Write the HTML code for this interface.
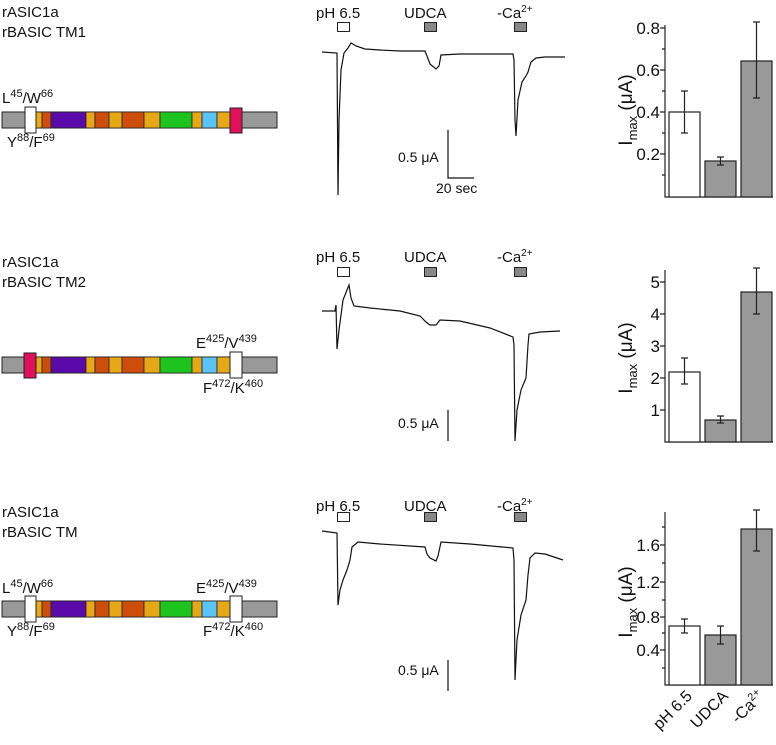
<!DOCTYPE html>
<html><head><meta charset="utf-8"><style>
html,body{margin:0;padding:0;background:#fff}
svg{display:block;font-family:"Liberation Sans",Arial,sans-serif}
</style></head><body>
<svg width="776" height="745" viewBox="0 0 776 745" xmlns="http://www.w3.org/2000/svg">
<defs>
<g id="bar">
<rect x="2" y="0" width="275" height="16" fill="#999" stroke="#222" stroke-width="1"/>
<rect x="36" y="0" width="6" height="16" fill="#e6a817" stroke="#222" stroke-width="0.8"/>
<rect x="42" y="0" width="9" height="16" fill="#cc4e0a" stroke="#222" stroke-width="0.8"/>
<rect x="51" y="0" width="35" height="16" fill="#5a0aa8" stroke="#222" stroke-width="0.8"/>
<rect x="86" y="0" width="9" height="16" fill="#e6a817" stroke="#222" stroke-width="0.8"/>
<rect x="95" y="0" width="14" height="16" fill="#cc4e0a" stroke="#222" stroke-width="0.8"/>
<rect x="109" y="0" width="13" height="16" fill="#e6a817" stroke="#222" stroke-width="0.8"/>
<rect x="122" y="0" width="22" height="16" fill="#cc4e0a" stroke="#222" stroke-width="0.8"/>
<rect x="144" y="0" width="16" height="16" fill="#e6a817" stroke="#222" stroke-width="0.8"/>
<rect x="160" y="0" width="32" height="16" fill="#1ec41e" stroke="#222" stroke-width="0.8"/>
<rect x="192" y="0" width="10" height="16" fill="#e6a817" stroke="#222" stroke-width="0.8"/>
<rect x="202" y="0" width="15" height="16" fill="#5ac4fa" stroke="#222" stroke-width="0.8"/>
<rect x="217" y="0" width="13" height="16" fill="#e6a817" stroke="#222" stroke-width="0.8"/>
</g>
</defs>
<g font-size="15" fill="#111">
<text x="2" y="17">rASIC1a</text><text x="2" y="37">rBASIC TM1</text>
<text x="2" y="267">rASIC1a</text><text x="2" y="287">rBASIC TM2</text>
<text x="2" y="517">rASIC1a</text><text x="2" y="537">rBASIC TM</text>
</g>
<g transform="translate(0,112)"><use href="#bar"/>
<rect x="25" y="-5" width="11" height="26" fill="#fff" stroke="#222"/>
<rect x="230" y="-4" width="12" height="25" fill="#e0105a" stroke="#222"/></g>
<g transform="translate(0,357)"><use href="#bar"/>
<rect x="24" y="-4" width="12" height="25" fill="#e0105a" stroke="#222"/>
<rect x="230" y="-5" width="12" height="26" fill="#fff" stroke="#222"/></g>
<g transform="translate(0,601)"><use href="#bar"/>
<rect x="25" y="-5" width="11" height="26" fill="#fff" stroke="#222"/>
<rect x="230" y="-5" width="12" height="26" fill="#fff" stroke="#222"/></g>
<g font-size="15" fill="#111">
<text x="2" y="103">L<tspan font-size="11" dy="-6">45</tspan><tspan dy="6">/W</tspan><tspan font-size="11" dy="-6">66</tspan></text>
<text x="7" y="147">Y<tspan font-size="11" dy="-6">88</tspan><tspan dy="6">/F</tspan><tspan font-size="11" dy="-6">69</tspan></text>
<text x="196" y="348">E<tspan font-size="11" dy="-6">425</tspan><tspan dy="6">/V</tspan><tspan font-size="11" dy="-6">439</tspan></text>
<text x="203" y="393">F<tspan font-size="11" dy="-6">472</tspan><tspan dy="6">/K</tspan><tspan font-size="11" dy="-6">460</tspan></text>
<text x="2" y="593">L<tspan font-size="11" dy="-6">45</tspan><tspan dy="6">/W</tspan><tspan font-size="11" dy="-6">66</tspan></text>
<text x="7" y="636">Y<tspan font-size="11" dy="-6">88</tspan><tspan dy="6">/F</tspan><tspan font-size="11" dy="-6">69</tspan></text>
<text x="196" y="593">E<tspan font-size="11" dy="-6">425</tspan><tspan dy="6">/V</tspan><tspan font-size="11" dy="-6">439</tspan></text>
<text x="203" y="636">F<tspan font-size="11" dy="-6">472</tspan><tspan dy="6">/K</tspan><tspan font-size="11" dy="-6">460</tspan></text>
</g>
<g font-size="15" fill="#111">
<text x="316" y="18">pH 6.5</text><text x="404" y="18">UDCA</text><text x="497" y="18">-Ca<tspan font-size="10" dy="-6">2+</tspan></text>
<text x="316" y="262">pH 6.5</text><text x="404" y="262">UDCA</text><text x="497" y="262">-Ca<tspan font-size="10" dy="-6">2+</tspan></text>
<text x="316" y="511">pH 6.5</text><text x="404" y="511">UDCA</text><text x="497" y="511">-Ca<tspan font-size="10" dy="-6">2+</tspan></text>
</g>
<g stroke="#222" stroke-width="1">
<rect x="337.5" y="22.5" width="12" height="9" fill="#fff"/><rect x="424.5" y="22.5" width="12" height="9" fill="#888"/><rect x="514.5" y="22.5" width="12" height="9" fill="#888"/>
<rect x="337.5" y="267.5" width="12" height="9" fill="#fff"/><rect x="424.5" y="267.5" width="12" height="9" fill="#888"/><rect x="514.5" y="267.5" width="12" height="9" fill="#888"/>
<rect x="337.5" y="512.5" width="12" height="9" fill="#fff"/><rect x="424.5" y="512.5" width="12" height="9" fill="#888"/><rect x="514.5" y="512.5" width="12" height="9" fill="#888"/>
</g>
<g fill="none" stroke="#111" stroke-width="1.2">
<path d="M322 52 L337 53 L338 195 L339 120 L341 70 L344 53 L348 48 L351 43 L356 46 L365 49 L380 50 L400 51 L425 51 L427 56 L430 64 L436 69 L439 66 L441 55 L460 54 L490 54 L513 54 L514 60 L515 120 L516 136 L518 100 L522 82 L526 76 L528 72 L531 62 L536 58 L545 57 L565 57"/>
<path d="M322 311 L335 311 L336 305 L337 349 L339 330 L343 300 L347 290 L349 285 L351 298 L354 306 L370 308 L400 311 L420 316 L426 322 L430 325 L436 325 L440 320 L460 321 L490 328 L513 337 L514 345 L515 441 L517 410 L521 390 L526 378 L528 345 L529 334 L540 332 L560 331"/>
<path d="M322 531 L337 533 L338 605 L340 590 L343 580 L347 570 L350 560 L352 547 L358 542 L380 544 L425 547 L427 554 L430 558 L436 561 L438 556 L441 542 L470 544 L513 548 L514 560 L515 680 L517 640 L521 615 L526 600 L528 575 L530 558 L535 553 L545 554 L563 560"/>
</g>
<g stroke="#111" stroke-width="1.2" fill="none">
<path d="M448 130 L448 178 L474 178"/>
<path d="M448 410 L448 441"/>
<path d="M448 660 L448 691"/>
</g>
<g font-size="14" fill="#111">
<text x="398" y="162">0.5 μA</text><text x="436" y="193">20 sec</text>
<text x="398" y="428">0.5 μA</text>
<text x="398" y="675">0.5 μA</text>
</g>
<g stroke="#222" stroke-width="1.2">
<path d="M665 25 V197 H773" fill="none"/>
<path d="M665 28 h-5 M665 49 h-3 M665 70 h-5 M665 91 h-3 M665 112 h-5 M665 133 h-3 M665 154 h-5 M665 175 h-3"/>
<rect x="669" y="112" width="31" height="85" fill="#fff"/>
<rect x="705" y="161" width="31" height="36" fill="#999"/>
<rect x="741" y="61" width="31" height="136" fill="#999"/>
<path d="M684.5 91 V133 M681 91 h7 M681 133 h7 M720.5 157 V165 M717 157 h7 M717 165 h7 M756.5 22 V98 M753 22 h7 M753 98 h7" fill="none"/>
</g>
<g font-size="17" fill="#111" text-anchor="end">
<text x="660" y="34">0.8</text><text x="660" y="76">0.6</text><text x="660" y="118">0.4</text><text x="660" y="160">0.2</text>
</g>
<g stroke="#222" stroke-width="1.2">
<path d="M665 270 V442 H773" fill="none"/>
<path d="M665 282 h-5 M665 314 h-5 M665 346 h-5 M665 378 h-5 M665 410 h-5"/>
<rect x="669" y="372" width="31" height="70" fill="#fff"/>
<rect x="705" y="420" width="31" height="22" fill="#999"/>
<rect x="741" y="292" width="31" height="150" fill="#999"/>
<path d="M684.5 358 V384 M681 358 h7 M681 384 h7 M720.5 416 V423 M717 416 h7 M717 423 h7 M756.5 268 V314 M753 268 h7 M753 314 h7" fill="none"/>
</g>
<g font-size="17" fill="#111" text-anchor="end">
<text x="660" y="288">5</text><text x="660" y="320">4</text><text x="660" y="352">3</text><text x="660" y="384">2</text><text x="660" y="416">1</text>
</g>
<g stroke="#222" stroke-width="1.2">
<path d="M665 512 V685 H773" fill="none"/>
<path d="M665 527 h-3 M665 545 h-5 M665 563 h-3 M665 582 h-5 M665 600 h-3 M665 617 h-5 M665 633 h-3 M665 650 h-5 M665 668 h-3"/>
<rect x="669" y="626" width="31" height="59" fill="#fff"/>
<rect x="705" y="635" width="31" height="50" fill="#999"/>
<rect x="741" y="529" width="31" height="156" fill="#999"/>
<path d="M684.5 619 V633 M681 619 h7 M681 633 h7 M720.5 626 V644 M717 626 h7 M717 644 h7 M756.5 510 V551 M753 510 h7 M753 551 h7" fill="none"/>
</g>
<g font-size="17" fill="#111" text-anchor="end">
<text x="660" y="551">1.6</text><text x="660" y="588">1.2</text><text x="660" y="623">0.8</text><text x="660" y="656">0.4</text>
</g>
<g font-size="16" fill="#111" text-anchor="end">
<text transform="translate(693,697) rotate(-45)">pH 6.5</text>
<text transform="translate(729,697) rotate(-45)">UDCA</text>
<text transform="translate(765,697) rotate(-45)">-Ca<tspan font-size="11" dy="-6">2+</tspan></text>
</g>
<g font-size="19" fill="#111" text-anchor="middle">
<text transform="translate(632,110) rotate(-90)">I<tspan font-size="13" dy="5">max</tspan><tspan dy="-5"> (μA)</tspan></text>
<text transform="translate(632,358) rotate(-90)">I<tspan font-size="13" dy="5">max</tspan><tspan dy="-5"> (μA)</tspan></text>
<text transform="translate(632,602) rotate(-90)">I<tspan font-size="13" dy="5">max</tspan><tspan dy="-5"> (μA)</tspan></text>
</g>
</svg>
</body></html>
